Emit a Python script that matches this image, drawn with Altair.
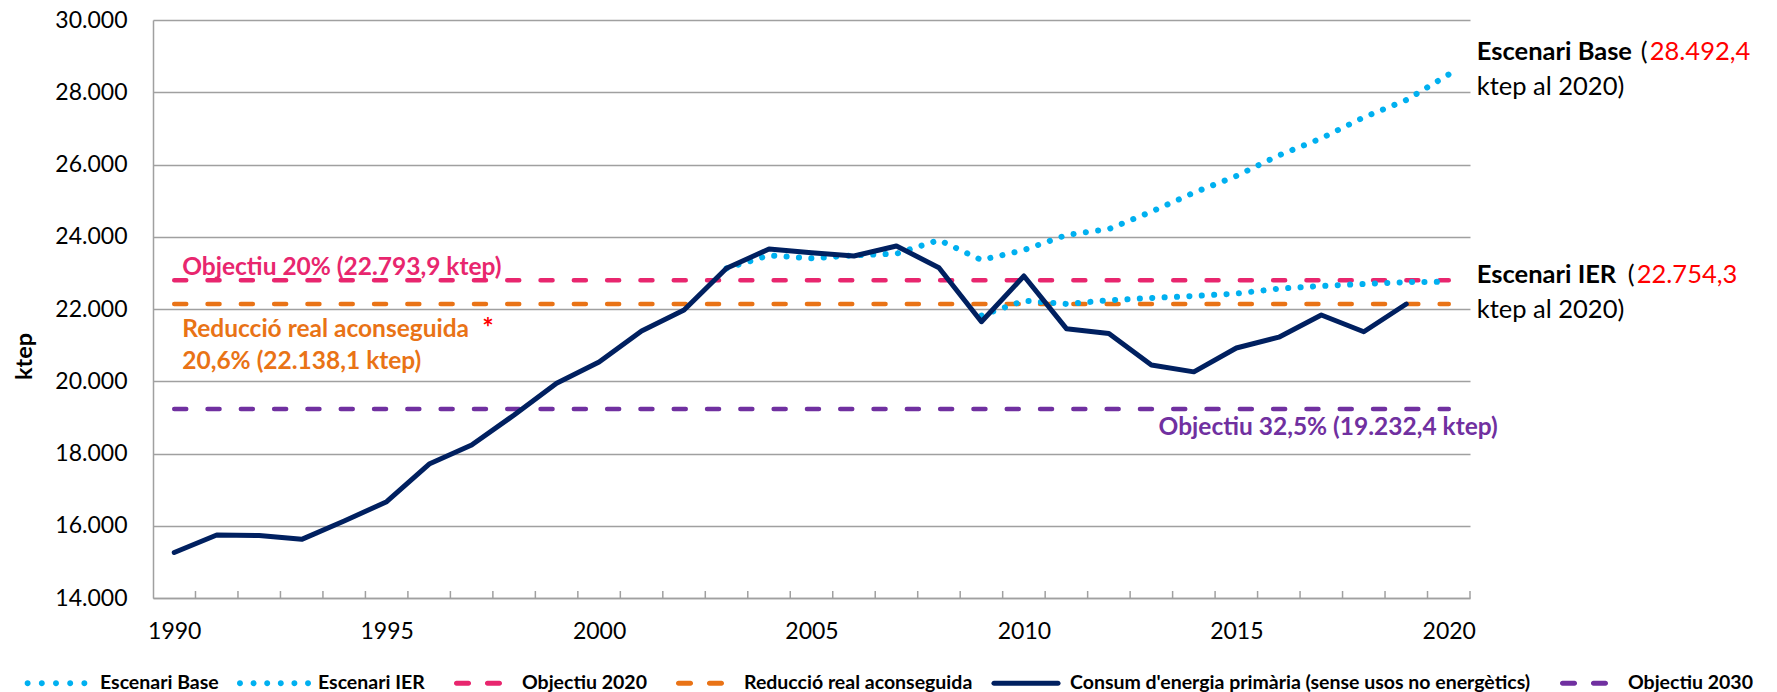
import altair as alt
import pandas as pd

# ---------------- data ----------------
years = list(range(1990, 2021))

consum_years = list(range(1990, 2020))
consum_values = [15260, 15744, 15730, 15624, 16130, 16666, 17709, 18235, 19065, 19943,
                 20530, 21391, 21972, 23126, 23661, 23558, 23467, 23744, 23144, 21649,
                 22913, 21455, 21320, 20450, 20260, 20920, 21220, 21834, 21371, 22138.1]

base_years = list(range(2003, 2021))
base_values = [23126, 23485, 23402, 23485, 23531, 23910, 23356, 23633, 24048, 24214,
               24694, 25220, 25682, 26253, 26724, 27306, 27785, 28492.4]

ier_years = list(range(2009, 2021))
ier_values = [21820, 22230, 22140, 22242, 22306, 22360, 22426, 22565, 22638, 22693,
              22744, 22754.3]

ref_names = ["Objectiu 2020", "Reducció real aconseguida", "Objectiu 2030"]
ref_values = [22793.9, 22138.1, 19232.4]

series_order = ["Escenari Base", "Escenari IER", "Objectiu 2020",
                "Reducció real aconseguida",
                "Consum d'energia primària (sense usos no energètics)",
                "Objectiu 2030"]

y_ticks = list(range(14000, 30001, 2000))
x_labels = list(range(1990, 2021, 5))

# ---------------- styles ----------------
BLUE = "#00B0F0"
NAVY = "#002060"
PINK = "#E8266E"
ORANGE = "#E97316"
PURPLE = "#7030A0"
RED = "#FF0000"
GRID = "#A0A0A0"
series_colors = [BLUE, BLUE, PINK, ORANGE, NAVY, PURPLE]

W, H = 1317, 578


def dots_path(centers, r):
    return "".join(f"M{c - r:.3f},0A{r},{r} 0 1,0 {c + r:.3f},0A{r},{r} 0 1,0 {c - r:.3f},0Z"
                   for c in centers)


def capsule(x1, x2, h):
    return (f"M{x1:.3f},{-h:.3f}L{x2:.3f},{-h:.3f}A{h},{h} 0 0,1 {x2:.3f},{h:.3f}"
            f"L{x1:.3f},{h:.3f}A{h},{h} 0 0,1 {x1:.3f},{-h:.3f}Z")


r_dot = 0.083
h_cap = 0.07
dash2 = capsule(-0.597, -0.263, h_cap) + capsule(0.263, 0.597, h_cap)
legend_shapes = [
    dots_path([-0.788, -0.394, 0.0, 0.394, 0.788], r_dot),
    dots_path([-0.945, -0.567, -0.189, 0.189, 0.567, 0.945], r_dot),
    dash2,
    dash2,
    capsule(-0.89, 0.89, h_cap),
    dash2,
]

CONSUM = series_order[4]
lines_df = pd.concat([
    pd.DataFrame({"serie": series_order[0], "year": base_years, "value": base_values}),
    pd.DataFrame({"serie": series_order[1], "year": ier_years, "value": ier_values}),
    pd.DataFrame({"serie": CONSUM, "year": consum_years, "value": consum_values}),
], ignore_index=True)

refs_df = pd.DataFrame({"serie": ref_names, "value": ref_values,
                        "x1": years[0], "x2": years[-1]})
bounds_df = pd.DataFrame({"b": [y + 0.5 for y in years]})

x_scale = alt.Scale(domain=[years[0] - 0.5, years[-1] + 0.5], nice=False, zero=False)
y_scale = alt.Scale(domain=[y_ticks[0], y_ticks[-1]], nice=False, zero=False)

x_axis = alt.Axis(values=x_labels, format="d", grid=False, ticks=False,
                  labelPadding=22, labelFontSize=23, labelColor="black",
                  labelFlush=False, domainColor=GRID, domainWidth=1.5, title=None)
y_axis = alt.Axis(values=y_ticks,
                  labelExpr="replace(format(datum.value, ',.0f'), ',', '.')",
                  grid=True, gridColor=GRID, gridWidth=1.5, ticks=False,
                  domainColor=GRID, domainWidth=1.5, labelPadding=26,
                  labelFontSize=23, labelColor="black",
                  title="ktep", titleFontSize=23.5, titleFontWeight="bold",
                  titleColor="black", titleAngle=270, titleX=-129, titleY=336,
                  titleAlign="center", titleBaseline="middle")


def X(field):
    return alt.X(field, type="quantitative", scale=x_scale, axis=x_axis)


def Y(field):
    return alt.Y(field, type="quantitative", scale=y_scale, axis=y_axis)


layers = []

# inner ticks on the category boundaries (Excel style)
layers.append(alt.Chart(bounds_df).mark_rule(color=GRID, strokeWidth=1.5).encode(
    x=X("b"), y=alt.value(H - 7), y2=alt.value(H)))

# horizontal objective lines
for name, col in zip(ref_names, [PINK, ORANGE, PURPLE]):
    layers.append(alt.Chart(refs_df).transform_filter(
        alt.datum.serie == name).mark_rule(
        color=col, strokeWidth=4.5, strokeDash=[12, 21.3], strokeCap="round").encode(
        x=X("x1"), x2="x2", y=Y("value")))

# scenario lines (dotted)
for name in series_order[:2]:
    layers.append(alt.Chart(lines_df).transform_filter(
        alt.datum.serie == name).mark_line(
        color=BLUE, strokeWidth=6, strokeDash=[0.1, 12.3], strokeCap="round",
        strokeJoin="round").encode(x=X("year"), y=Y("value"), order="year:Q"))

# consumption line
layers.append(alt.Chart(lines_df).transform_filter(
    alt.datum.serie == CONSUM).mark_line(
    color=NAVY, strokeWidth=5, strokeJoin="round", strokeCap="round").encode(
    x=X("year"), y=Y("value"), order="year:Q"))

# legend (scale-driven, no marks drawn)
legend = alt.Legend(title=None, orient="none", legendX=-133, legendY=627,
                    direction="horizontal", columns=6, symbolSize=5184,
                    symbolStrokeWidth=0, symbolOpacity=1, labelFontSize=19.5,
                    labelFontWeight="bold", labelColor="black", labelLimit=1000,
                    labelOffset=8, columnPadding=17, padding=0)
layers.append(alt.Chart(lines_df).transform_filter("false").mark_point(
    filled=True, opacity=1).encode(
    x=X("year"), y=Y("value"),
    color=alt.Color("serie:N", scale=alt.Scale(domain=series_order, range=series_colors),
                    legend=legend),
    shape=alt.Shape("serie:N", scale=alt.Scale(domain=series_order, range=legend_shapes),
                    legend=legend)))


def note(text, xv, yv, dx, dy, color="black", weight="normal", size=24.5, align="left"):
    df = pd.DataFrame({"x": [xv], "y": [yv], "t": [text]})
    return alt.Chart(df).mark_text(
        align=align, baseline="alphabetic", dx=dx, dy=dy, color=color,
        fontWeight=weight, fontSize=size, font="Lato").encode(
        x=X("x"), y=Y("y"), text="t:N")


layers += [
    note("Objectiu 20% (22.793,9 ktep)", years[0], ref_values[0], 8, -5, PINK, "bold"),
    note("Reducció real aconseguida", years[0], ref_values[1], 8, 33, ORANGE, "bold"),
    note("*", years[0], ref_values[1], 308, 33, RED, "bold", 27),
    note("20,6% (22.138,1 ktep)", years[0], ref_values[1], 8, 65, ORANGE, "bold"),
    note("Objectiu 32,5% (19.232,4 ktep)", years[-1], ref_values[2], 49, 26, PURPLE,
         "bold", align="right"),
    note("Escenari Base", years[-1], base_values[-1], 28, -14.5, "black", "bold", 25.5),
    note("(", years[-1], base_values[-1], 192, -14.5, "black", "normal", 25.5),
    note("28.492,4", years[-1], base_values[-1], 201, -14.5, RED, "normal", 25.5),
    note("ktep al 2020)", years[-1], base_values[-1], 28, 20.5, "black", "normal", 25.5),
    note("Escenari IER", years[-1], ier_values[-1], 28, 1.3, "black", "bold", 25.5),
    note("(", years[-1], ier_values[-1], 179, 1.3, "black", "normal", 25.5),
    note("22.754,3", years[-1], ier_values[-1], 188, 1.3, RED, "normal", 25.5),
    note("ktep al 2020)", years[-1], ier_values[-1], 28, 36.5, "black", "normal", 25.5),
]

chart = alt.layer(*layers).properties(
    width=W, height=H,
    padding={"left": 145, "top": 12, "right": 299, "bottom": 94},
    autosize=alt.AutoSizeParams(type="none"),
).configure(font="Lato").configure_view(stroke=None)

chart.save("out.html", embed_options={"renderer": "svg", "actions": False})
